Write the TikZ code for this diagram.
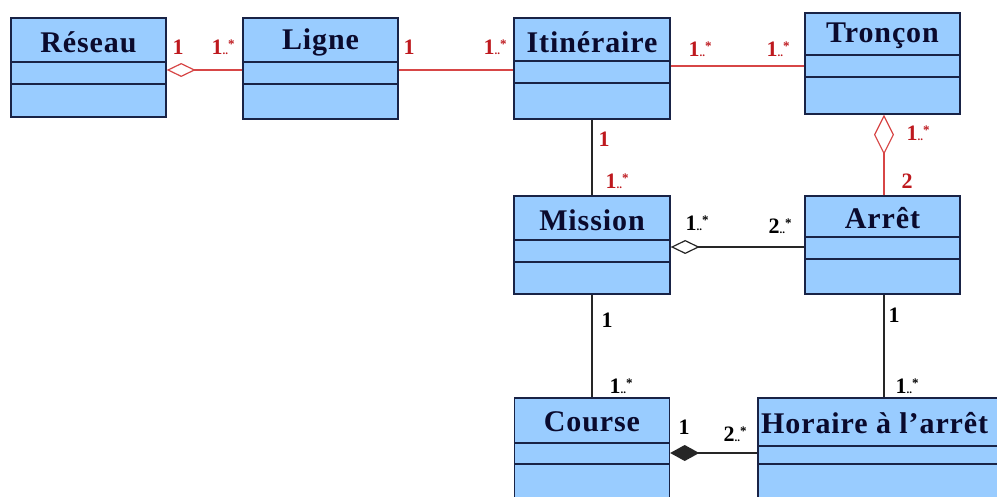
\documentclass[tikz,border=0pt]{standalone}
\usepackage{fontspec}
\setmainfont{Liberation Serif}
\usetikzlibrary{arrows.meta}
\definecolor{boxfill}{RGB}{153,204,255}
\definecolor{boxline}{RGB}{25,35,70}
\definecolor{titletext}{RGB}{10,10,45}
\definecolor{redlab}{RGB}{190,25,30}
\definecolor{redline}{RGB}{215,70,70}
\newcommand{\mlt}[1]{#1{\fontsize{11pt}{11pt}\selectfont..}\raisebox{6pt}{\fontsize{13pt}{13pt}\selectfont *}}
\tikzset{
  cls/.style={draw=boxline, fill=boxfill, line width=1.4pt, rectangle, inner sep=0pt},
  sep/.style={draw=boxline, line width=1.3pt},
  ctitle/.style={font=\fontsize{30pt}{32pt}\selectfont\bfseries\addfontfeatures{LetterSpace=3}, text=titletext, inner sep=0pt},
  rlab/.style={font=\fontsize{22pt}{23pt}\selectfont\bfseries, text=redlab, inner sep=0pt},
  blab/.style={font=\fontsize{22pt}{23pt}\selectfont\bfseries, text=black, inner sep=0pt},
  rconn/.style={draw=redline, line width=1.4pt},
  bconn/.style={draw=black!85, line width=1.3pt},
  aggr/.style={-{Diamond[open, length=#1, width=14pt, line width=1.2pt]}},
  comp/.style={-{Diamond[length=29pt, width=16pt]}}
}
\begin{document}
\begin{tikzpicture}[x=1pt,y=-1pt]
\clip (0,0) rectangle (997,497);
\fill[white] (0,0) rectangle (997,497);

% classes
\node[cls, minimum width=155pt, minimum height=99pt] (reseau) at (88.5,67.5) {};
\node[cls, minimum width=155pt, minimum height=101pt] (ligne) at (320.5,68.5) {};
\node[cls, minimum width=156pt, minimum height=101pt] (itin) at (592,68.5) {};
\node[cls, minimum width=155pt, minimum height=101pt] (troncon) at (882.5,63.5) {};
\node[cls, minimum width=156pt, minimum height=98pt] (mission) at (592,245) {};
\node[cls, minimum width=155pt, minimum height=98pt] (arret) at (882.5,245) {};
\node[cls, minimum width=155pt, minimum height=110pt] (course) at (592,453) {};
\node[cls, minimum width=260pt, minimum height=110pt] (horaire) at (888,453) {};

% compartment separators
\draw[sep] (reseau.west |- 0,62) -- (reseau.east |- 0,62);
\draw[sep] (reseau.west |- 0,84) -- (reseau.east |- 0,84);
\draw[sep] (ligne.west |- 0,62) -- (ligne.east |- 0,62);
\draw[sep] (ligne.west |- 0,84) -- (ligne.east |- 0,84);
\draw[sep] (itin.west |- 0,61) -- (itin.east |- 0,61);
\draw[sep] (itin.west |- 0,83) -- (itin.east |- 0,83);
\draw[sep] (troncon.west |- 0,55) -- (troncon.east |- 0,55);
\draw[sep] (troncon.west |- 0,77) -- (troncon.east |- 0,77);
\draw[sep] (mission.west |- 0,240) -- (mission.east |- 0,240);
\draw[sep] (mission.west |- 0,262) -- (mission.east |- 0,262);
\draw[sep] (arret.west |- 0,237) -- (arret.east |- 0,237);
\draw[sep] (arret.west |- 0,259) -- (arret.east |- 0,259);
\draw[sep] (course.west |- 0,443) -- (course.east |- 0,443);
\draw[sep] (course.west |- 0,464) -- (course.east |- 0,464);
\draw[sep] (horaire.west |- 0,446) -- (horaire.east |- 0,446);
\draw[sep] (horaire.west |- 0,464) -- (horaire.east |- 0,464);

% titles
\node[ctitle] (reseau-t) at (88.5,42) {Réseau};
\node[ctitle] (ligne-t) at (320.5,42) {Ligne};
\node[ctitle] (itin-t) at (592,42) {Itinéraire};
\node[ctitle] (troncon-t) at (882.5,36) {Tronçon};
\node[ctitle] (mission-t) at (592,220) {Mission};
\node[ctitle] (arret-t) at (882.5,218) {Arrêt};
\node[ctitle] (course-t) at (592,422) {Course};
\node[ctitle, anchor=west] (horaire-t) at (761,423) {Horaire à l’arrêt};

% connectors
\draw[rconn, aggr=29pt] (ligne.west |- 0,70) -- (reseau.east |- 0,70);
\draw[rconn] (ligne.east |- 0,70) -- (itin.west |- 0,70);
\draw[rconn] (itin.east |- 0,66) -- (troncon.west |- 0,66);
\draw[bconn] (itin.south) -- (mission.north);
\draw[rconn, -{Diamond[open, length=40pt, width=20pt, line width=1.2pt]}] (arret.north -| 884,0) -- (troncon.south -| 884,0);
\draw[bconn, aggr=29pt] (arret.west |- 0,247) -- (mission.east |- 0,247);
\draw[bconn] (mission.south) -- (course.north);
\draw[bconn] (arret.south -| 884,0) -- (horaire.north -| 884,0);
\draw[bconn, comp] (horaire.west) -- (course.east);

% multiplicities
\node[rlab] (m1) at (178,47) {1};
\node[rlab] (m2) at (223,47) {\mlt{1}};
\node[rlab] (m3) at (409,47) {1};
\node[rlab] (m4) at (495,47) {\mlt{1}};
\node[rlab] (m5) at (700,49) {\mlt{1}};
\node[rlab] (m6) at (778,49) {\mlt{1}};
\node[rlab] (m7) at (604,139) {1};
\node[rlab] (m8) at (617,181) {\mlt{1}};
\node[rlab] (m9) at (918,133) {\mlt{1}};
\node[rlab] (m10) at (907,181) {2};
\node[blab] (m11) at (697,223) {\mlt{1}};
\node[blab] (m12) at (780,226) {\mlt{2}};
\node[blab] (m13) at (607,320) {1};
\node[blab] (m14) at (621,386) {\mlt{1}};
\node[blab] (m15) at (894,315) {1};
\node[blab] (m16) at (907,386) {\mlt{1}};
\node[blab] (m17) at (684,427) {1};
\node[blab] (m18) at (735,434) {\mlt{2}};
\end{tikzpicture}
\end{document}
